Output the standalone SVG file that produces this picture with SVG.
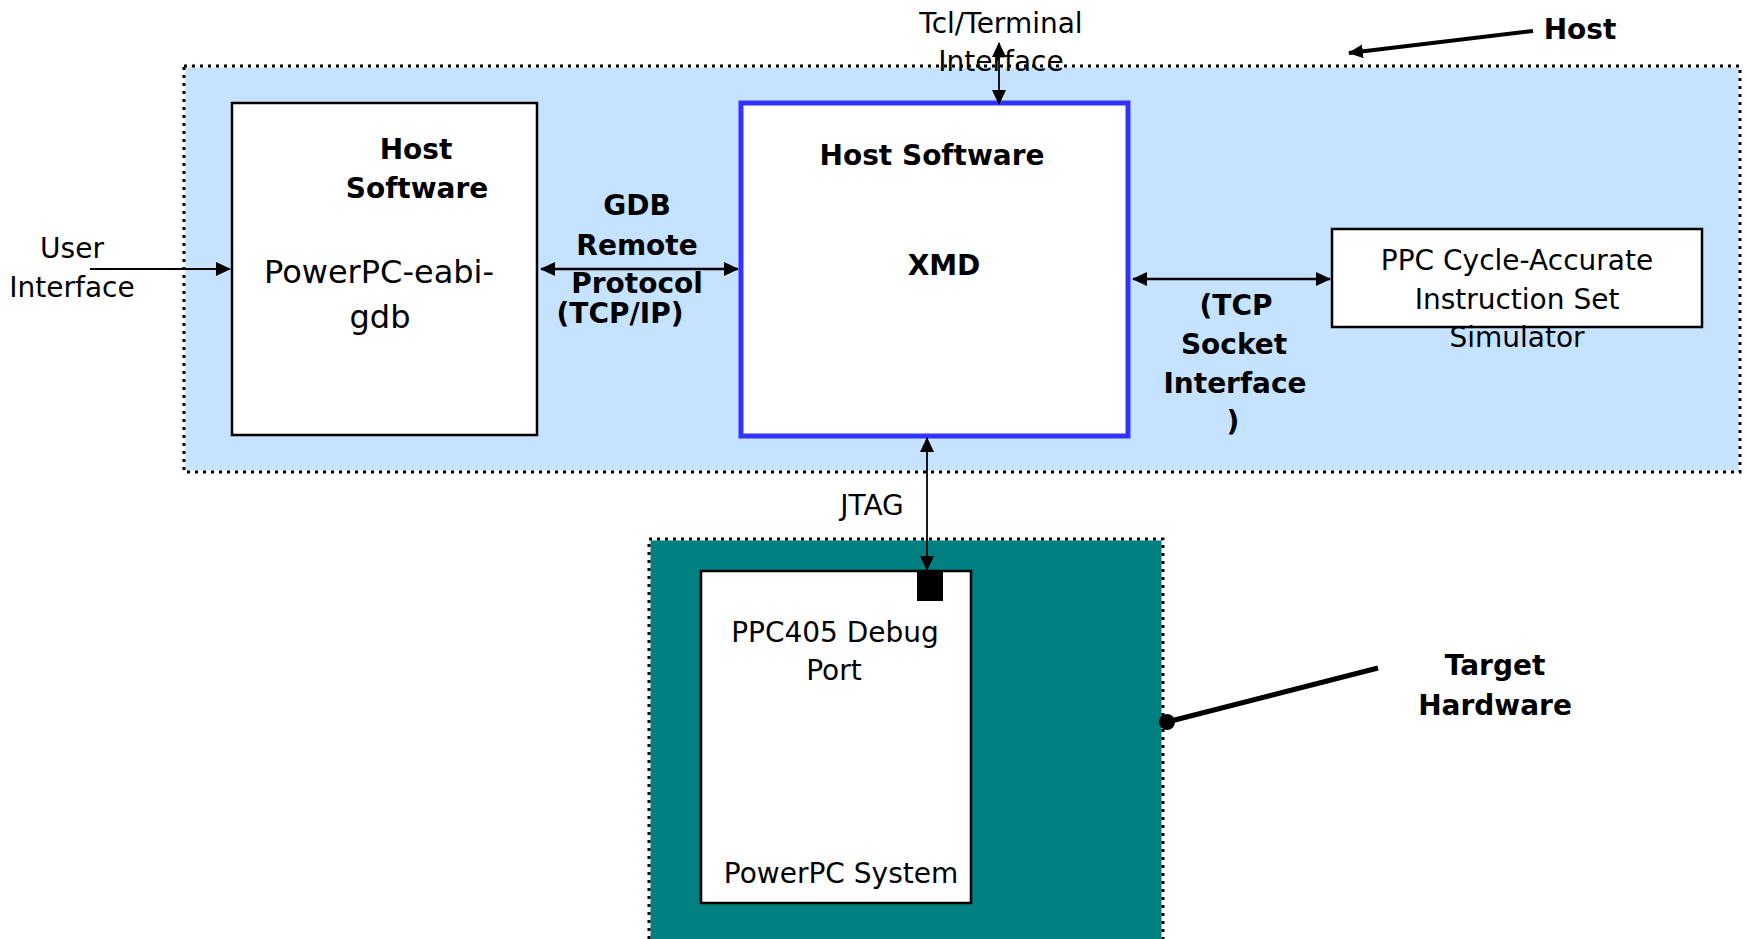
<svg xmlns="http://www.w3.org/2000/svg" width="1748" height="939" viewBox="0 0 1748 939">
<style>
text{font-family:"DejaVu Sans","Liberation Sans",sans-serif;font-size:28px;fill:#000;text-anchor:middle}
.b{font-weight:bold}
.box{fill:#fff;stroke:#000;stroke-width:2.5}
.dot{fill:none;stroke:#000;stroke-width:3;stroke-dasharray:3 5}
.under{fill:none;stroke:#fff;stroke-width:3}
.c{stroke:#000;fill:none}
</style>
<defs>
<marker id="ah" markerUnits="userSpaceOnUse" viewBox="0 0 15 14" markerWidth="15" markerHeight="14" refX="14" refY="7" orient="auto-start-reverse">
<path d="M0,0 L15,7 L0,14 z" fill="#000"/>
</marker>
</defs>
<g id="host">
<rect x="184" y="66" width="1556" height="406" fill="#C5E2FF"/>
<rect x="184" y="66" width="1556" height="406" class="under"/>
<rect x="184" y="66" width="1556" height="406" class="dot"/>
</g>
<g id="gdb-box">
<rect x="232" y="103" width="305" height="332" class="box"/>
<text class="b" x="416" y="159">Host</text>
<text class="b" x="417" y="198">Software</text>
<text x="379" y="283" style="font-size:32px">PowerPC-eabi-</text>
<text x="380" y="328" style="font-size:32px">gdb</text>
</g>
<g id="xmd-box">
<rect x="741" y="103" width="387" height="333" fill="#fff" stroke="#3333FF" stroke-width="5"/>
<text class="b" x="932" y="165">Host Software</text>
<text class="b" x="944" y="275">XMD</text>
</g>
<g id="simulator">
<rect x="1332" y="229" width="370" height="98" class="box"/>
<text x="1517" y="270">PPC Cycle-Accurate</text>
<text x="1517" y="309">Instruction Set</text>
<text x="1517" y="347">Simulator</text>
</g>
<g id="target">
<rect x="649" y="539" width="514" height="410" fill="#008080"/>
<rect x="649" y="539" width="514" height="410" class="under"/>
<rect x="649" y="539" width="514" height="410" class="dot"/>
</g>
<g id="powerpc-system">
<rect x="701" y="571" width="270" height="332" class="box"/>
<rect x="917" y="571" width="26" height="30" fill="#000"/>
<text x="835" y="642">PPC405 Debug</text>
<text x="834" y="680">Port</text>
<text x="841" y="883">PowerPC System</text>
</g>
<g id="connectors">
<line class="c" x1="90" y1="269" x2="230" y2="269" stroke-width="2" marker-end="url(#ah)"/>
<line class="c" x1="541" y1="269" x2="738" y2="269" stroke-width="2.5" marker-start="url(#ah)" marker-end="url(#ah)"/>
<line class="c" x1="1133" y1="279" x2="1330" y2="279" stroke-width="2.5" marker-start="url(#ah)" marker-end="url(#ah)"/>
<line class="c" x1="999" y1="43" x2="999" y2="104" stroke-width="1.8" marker-start="url(#ah)" marker-end="url(#ah)"/>
<line class="c" x1="927" y1="438" x2="927" y2="570" stroke-width="1.8" marker-start="url(#ah)" marker-end="url(#ah)"/>
<line class="c" x1="1533" y1="31" x2="1349" y2="53" stroke-width="4" marker-end="url(#ah)"/>
<line class="c" x1="1167" y1="722" x2="1378" y2="668" stroke-width="5"/>
<circle cx="1167" cy="722" r="8" fill="#000"/>
</g>
<g id="labels">
<text x="72" y="258">User</text>
<text x="72" y="297">Interface</text>
<text class="b" x="637" y="215">GDB</text>
<text class="b" x="637" y="255">Remote</text>
<text class="b" x="637" y="293">Protocol</text>
<text class="b" x="620" y="323">(TCP/IP)</text>
<text x="1001" y="33">Tcl/Terminal</text>
<text x="1001" y="71">Interface</text>
<text class="b" x="1580" y="39">Host</text>
<text class="b" x="1236" y="315">(TCP</text>
<text class="b" x="1234" y="354">Socket</text>
<text class="b" x="1235" y="393">Interface</text>
<text class="b" x="1233" y="431">)</text>
<text x="872" y="515">JTAG</text>
<text class="b" x="1495" y="675">Target</text>
<text class="b" x="1495" y="715">Hardware</text>
</g>
</svg>
